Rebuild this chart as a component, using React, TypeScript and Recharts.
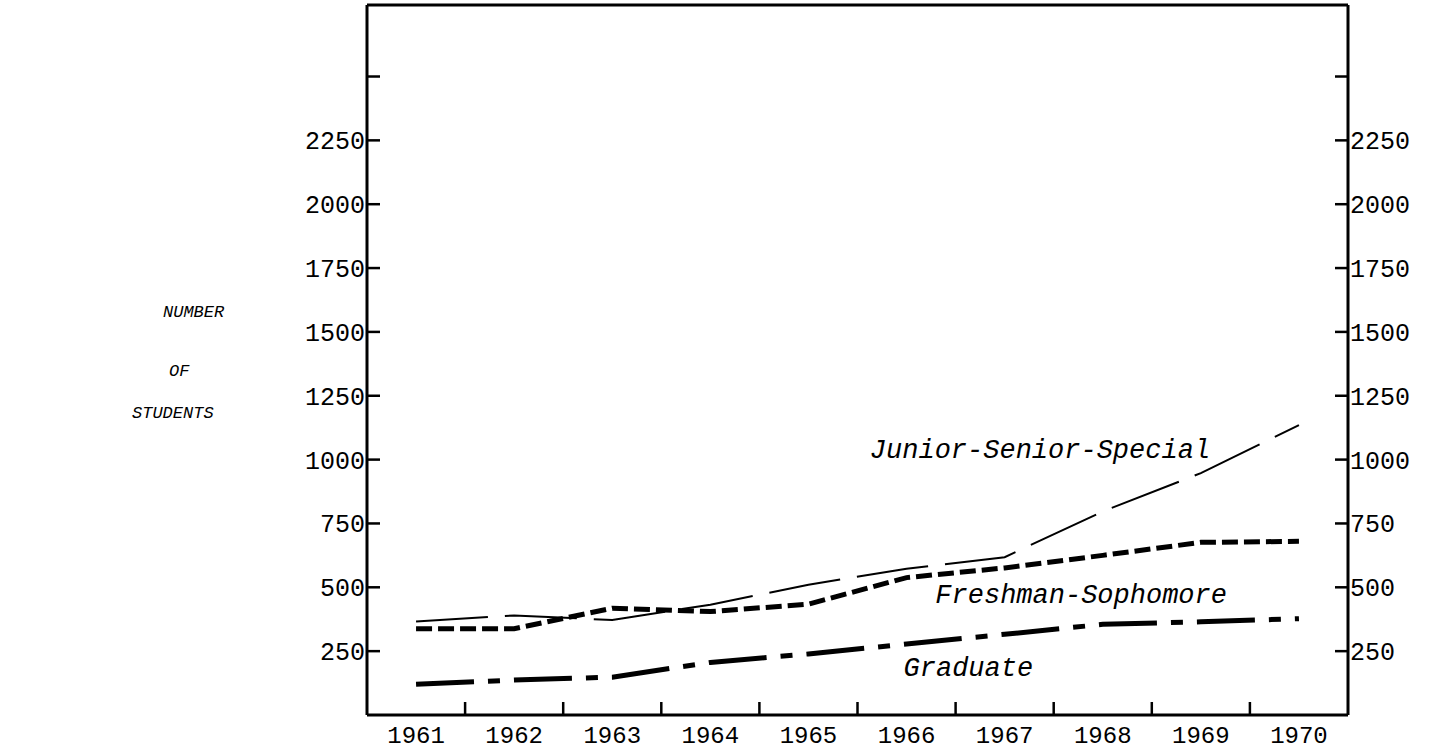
import { ComposedChart, Line, XAxis, YAxis, ReferenceDot } from 'recharts';

// enrolment by class level
const years = [1961, 1962, 1963, 1964, 1965, 1966, 1967, 1968, 1969, 1970];
const juniorSeniorSpecial = [366, 390, 372, 432, 510, 573, 618, 797, 947, 1135];
const freshmanSophomore = [338, 338, 418, 405, 434, 538, 576, 625, 676, 680];
const graduate = [120, 137, 148, 206, 239, 278, 316, 355, 365, 377];

const yTicks = [250, 500, 750, 1000, 1250, 1500, 1750, 2000, 2250, 2500];
const yTickLabels = ['250', '500', '750', '1000', '1250', '1500', '1750', '2000', '2250', ''];
const titleLines = ['NUMBER', 'OF', 'STUDENTS'];

const data = years.map((year, i) => ({
  year,
  junior: juniorSeniorSpecial[i],
  freshman: freshmanSophomore[i],
  graduate: graduate[i],
}));

// tick marks sit between the years, labels on the years
const boundaries = years.slice(1).map((y) => y - 0.5);
const bottomTicks = [...years, ...boundaries].sort((a, b) => a - b);

const mono = '"Liberation Mono", monospace';
const TICK = 13;

function BottomTick(props: any) {
  const { x, y, payload } = props;
  const v = payload.value;
  if (Number.isInteger(v)) {
    return (
      <text x={x} y={y + 28} textAnchor="middle" fontFamily={mono} fontSize={24} fill="#000">
        {v}
      </text>
    );
  }
  return <line x1={x} x2={x} y1={y} y2={y - TICK} stroke="#000" strokeWidth={2.5} />;
}

function TopTick(props: any) {
  const { x, y } = props;
  return <line x1={x} x2={x} y1={y} y2={y + TICK} stroke="#000" strokeWidth={2.5} />;
}

function LeftTick(props: any) {
  const { x, y, payload } = props;
  const label = yTickLabels[yTicks.indexOf(payload.value)];
  return (
    <g>
      <line x1={x} x2={x + TICK} y1={y} y2={y} stroke="#000" strokeWidth={2.5} />
      {label && (
        <text x={x - 2} y={y} dy="0.36em" textAnchor="end" fontFamily={mono} fontSize={25} fill="#000">
          {label}
        </text>
      )}
    </g>
  );
}

function RightTick(props: any) {
  const { x, y, payload } = props;
  const label = yTickLabels[yTicks.indexOf(payload.value)];
  return (
    <g>
      <line x1={x} x2={x - TICK} y1={y} y2={y} stroke="#000" strokeWidth={2.5} />
      {label && (
        <text x={x + 2} y={y} dy="0.36em" textAnchor="start" fontFamily={mono} fontSize={25} fill="#000">
          {label}
        </text>
      )}
    </g>
  );
}

const noteStyle = {
  position: 'center' as const,
  fill: '#000',
  fontSize: 27,
  fontFamily: mono,
  fontStyle: 'italic',
};

export default function App() {
  const frame = { stroke: '#000', strokeWidth: 3 };
  return (
    <div style={{ position: 'absolute', left: 0, top: 0, width: 1430, height: 750, background: '#fff' }}>
      {titleLines.map((t, i) => (
        <div
          key={t}
          style={{
            position: 'absolute',
            left: [163, 169, 132][i],
            top: [302, 361, 403][i],
            height: 22,
            lineHeight: '22px',
            fontFamily: mono,
            fontStyle: 'italic',
            fontSize: 17,
            color: '#000',
          }}
        >
          {t}
        </div>
      ))}
      <ComposedChart width={1430} height={750} data={data} margin={{ top: 0, right: 22, bottom: 0, left: 307 }}>
        <XAxis
          dataKey="year"
          type="number"
          domain={[1960.5, 1970.5]}
          allowDataOverflow
          ticks={bottomTicks}
          interval={0}
          tickSize={0}
          tickMargin={0}
          tickLine={false}
          axisLine={frame}
          tick={<BottomTick />}
          height={35}
        />
        <XAxis
          xAxisId="top"
          orientation="top"
          type="number"
          domain={[1960.5, 1970.5]}
          allowDataOverflow
          ticks={boundaries}
          interval={0}
          tickSize={0}
          tickMargin={0}
          tickLine={false}
          axisLine={frame}
          tick={<TopTick />}
          height={5}
        />
        <YAxis
          type="number"
          domain={[0, 2780]}
          allowDataOverflow
          ticks={yTicks}
          interval={0}
          tickSize={0}
          tickMargin={0}
          tickLine={false}
          axisLine={frame}
          tick={<LeftTick />}
          width={60}
        />
        <YAxis
          yAxisId="right"
          orientation="right"
          type="number"
          domain={[0, 2780]}
          allowDataOverflow
          ticks={yTicks}
          interval={0}
          tickSize={0}
          tickMargin={0}
          tickLine={false}
          axisLine={frame}
          tick={<RightTick />}
          width={60}
        />
        <Line
          type="linear"
          dataKey="junior"
          stroke="#000"
          strokeWidth={2}
          strokeDasharray="72 17"
          dot={false}
          activeDot={false}
          isAnimationActive={false}
        />
        <Line
          type="linear"
          dataKey="freshman"
          stroke="#000"
          strokeWidth={5}
          strokeDasharray="16 6"
          dot={false}
          activeDot={false}
          isAnimationActive={false}
        />
        <Line
          type="linear"
          dataKey="graduate"
          stroke="#000"
          strokeWidth={5}
          strokeDasharray="58 14 12 14"
          dot={false}
          activeDot={false}
          isAnimationActive={false}
        />
        <ReferenceDot x={1967.36} y={1045} r={0} ifOverflow="visible" label={{ value: 'Junior-Senior-Special', ...noteStyle }} />
        <ReferenceDot x={1967.78} y={476} r={0} ifOverflow="visible" label={{ value: 'Freshman-Sophomore', ...noteStyle }} />
        <ReferenceDot x={1966.63} y={192} r={0} ifOverflow="visible" label={{ value: 'Graduate', ...noteStyle }} />
      </ComposedChart>
    </div>
  );
}
